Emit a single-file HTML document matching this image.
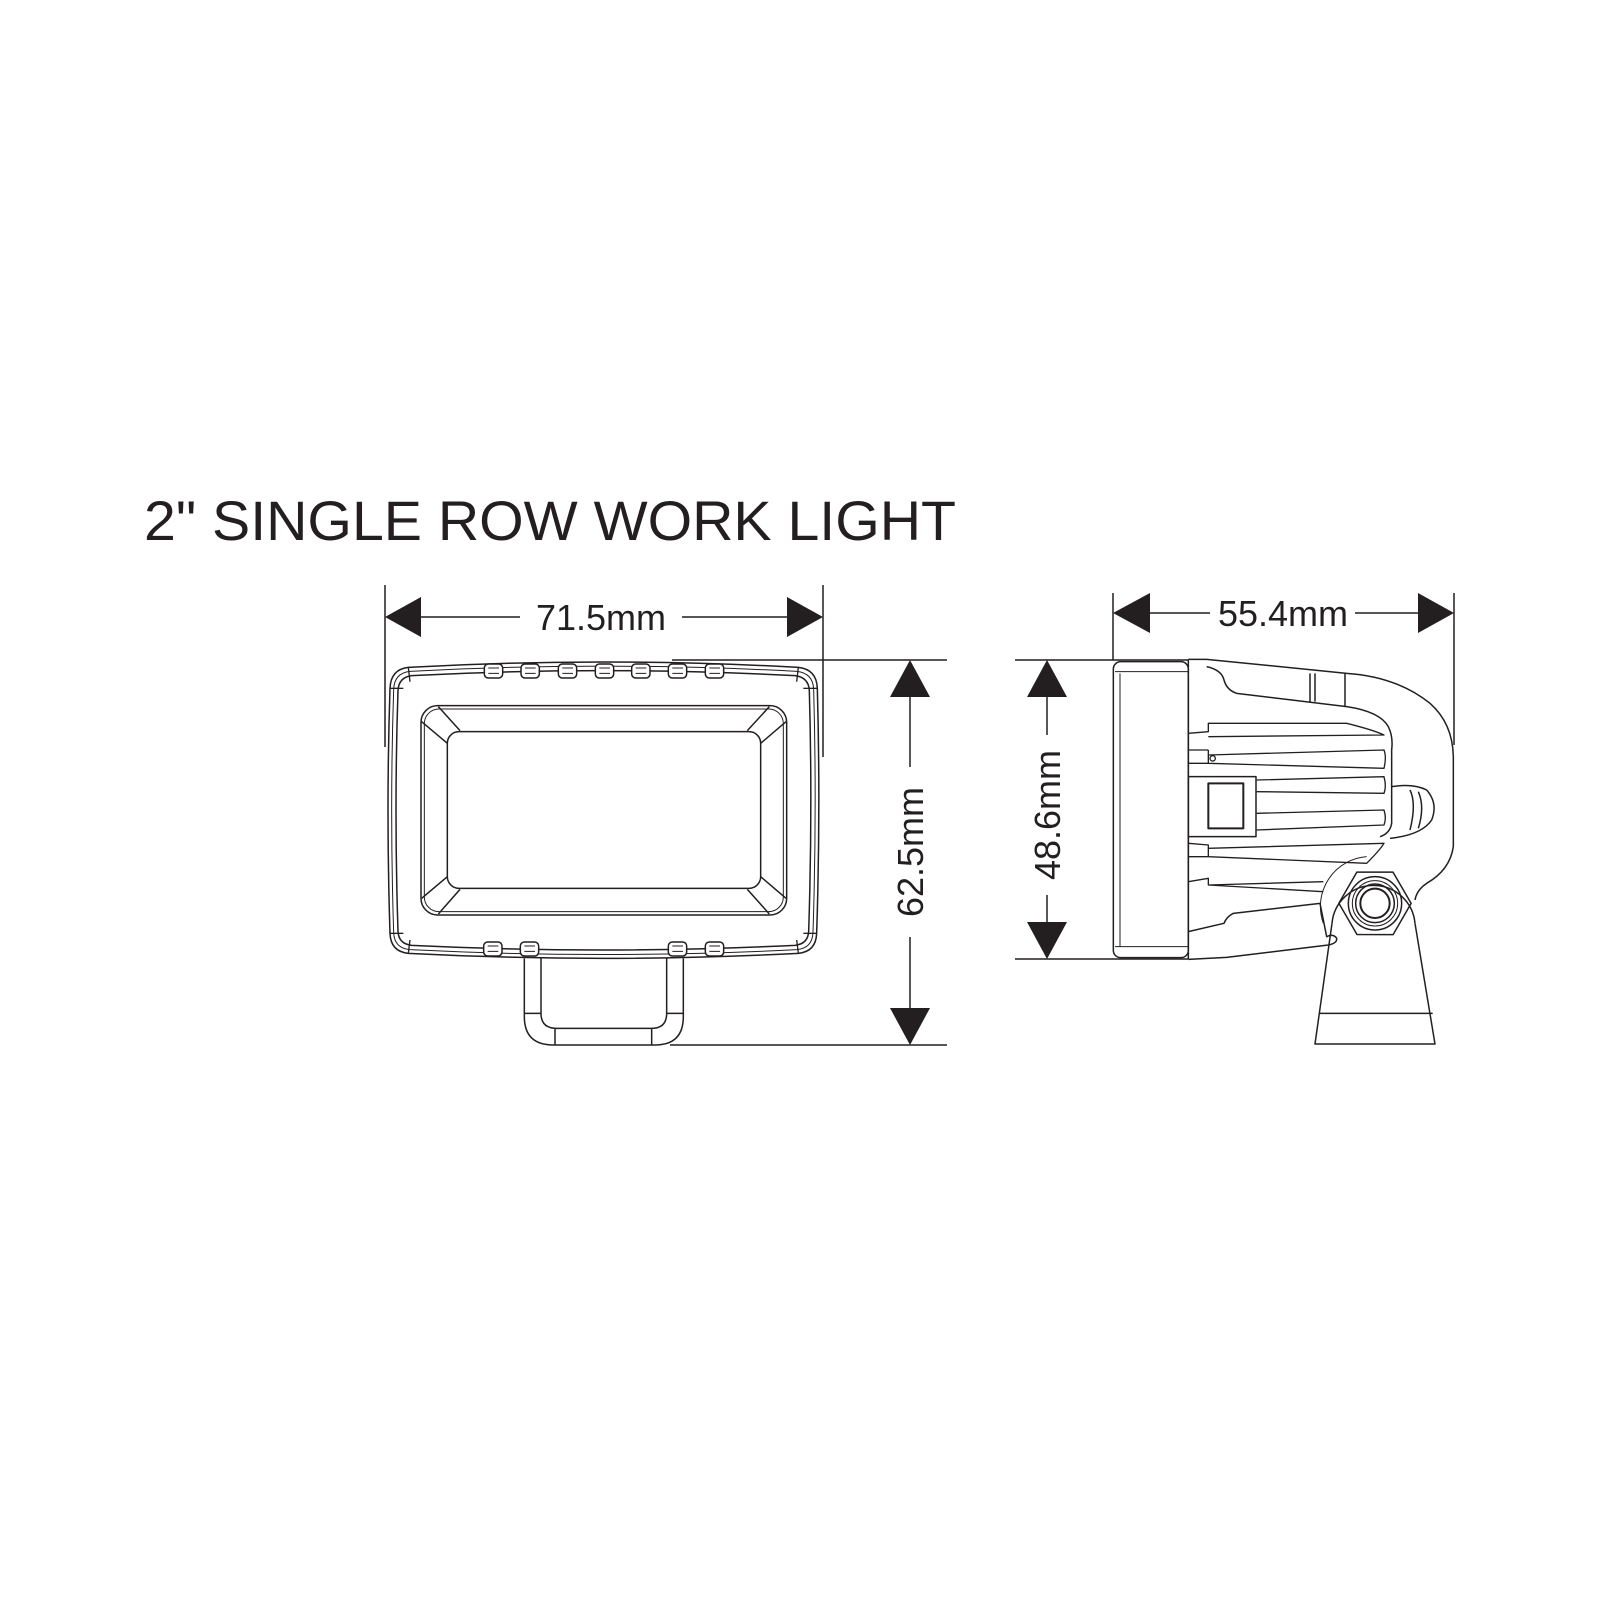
<!DOCTYPE html>
<html><head><meta charset="utf-8"><style>
html,body{margin:0;padding:0;background:#fff;}
svg{display:block;}
</style></head><body>
<svg width="1600" height="1600" viewBox="0 0 1600 1600" xmlns="http://www.w3.org/2000/svg">
<rect width="1600" height="1600" fill="#fff"/>
<text x="144" y="540" font-family="Liberation Sans, sans-serif" font-size="56" fill="#231f20" textLength="812" lengthAdjust="spacingAndGlyphs">2" SINGLE ROW WORK LIGHT</text>

<g stroke="#231f20" fill="none" stroke-width="1.5">
<line x1="385" y1="585" x2="385" y2="747"/>
<line x1="823" y1="585" x2="823" y2="757"/>
<line x1="420" y1="617" x2="520" y2="617"/>
<line x1="682" y1="617" x2="790" y2="617"/>
<line x1="672" y1="660" x2="947" y2="660"/>
<line x1="670" y1="1045" x2="947" y2="1045"/>
<line x1="910" y1="697" x2="910" y2="767"/>
<line x1="910" y1="937" x2="910" y2="1008"/>
<line x1="1015" y1="660" x2="1188" y2="660"/>
<line x1="1015" y1="959" x2="1188" y2="959"/>
<line x1="1047" y1="697" x2="1047" y2="735"/>
<line x1="1047" y1="895" x2="1047" y2="922"/>
<line x1="1113" y1="593" x2="1113" y2="660"/>
<line x1="1454" y1="593" x2="1454" y2="745"/>
<line x1="1150" y1="613" x2="1210" y2="613"/>
<line x1="1355" y1="613" x2="1418" y2="613"/>
</g>
<g fill="#231f20">
<polygon points="385,617 421,597 421,637"/>
<polygon points="823,617 787,597 787,637"/>
<polygon points="910,660 890,697 930,697"/>
<polygon points="910,1045 890,1008 930,1008"/>
<polygon points="1047,660 1027,697 1067,697"/>
<polygon points="1047,959 1027,922 1067,922"/>
<polygon points="1113,613 1150,593 1150,633"/>
<polygon points="1454,613 1418,593 1418,633"/>
</g>
<g font-family="Liberation Sans, sans-serif" font-size="36" fill="#231f20">
<text x="601" y="630" text-anchor="middle">71.5mm</text>
<text x="1283" y="626" text-anchor="middle">55.4mm</text>
<text transform="translate(923,852) rotate(-90)" text-anchor="middle">62.5mm</text>
<text transform="translate(1060,815) rotate(-90)" text-anchor="middle">48.6mm</text>
</g>

<g transform="translate(370,640) scale(0.33333)" stroke="#231f20" fill="none" stroke-width="4.5" stroke-linejoin="round">
<path d="M115,82 Q700,50 1285,82 Q1340,88 1342,145 Q1352,510 1340,880 Q1338,935 1285,940 Q700,970 115,940 Q62,935 60,880 Q48,510 60,145 Q62,88 115,82 Z"/>
<path d="M120,94 Q700,63 1280,94 Q1329,99 1331,148 Q1341,510 1329,878 Q1327,925 1280,929 Q700,958 120,929 Q73,925 71,878 Q59,510 71,148 Q73,99 120,94 Z" stroke-width="3"/>
<path d="M125,107 Q700,77 1275,107 Q1316,112 1318,152 Q1328,510 1316,874 Q1314,912 1275,916 Q700,944 125,916 Q86,912 84,874 Q72,510 84,152 Q86,112 125,107 Z"/>
<g stroke-width="4">
<line x1="60" y1="145" x2="100" y2="145"/><line x1="115" y1="82" x2="120" y2="125"/>
<line x1="1342" y1="145" x2="1300" y2="145"/><line x1="1285" y1="82" x2="1280" y2="125"/>
<line x1="60" y1="880" x2="100" y2="880"/><line x1="115" y1="940" x2="120" y2="900"/>
<line x1="1340" y1="880" x2="1300" y2="880"/><line x1="1285" y1="940" x2="1280" y2="900"/>
</g>
<g fill="#fff">
<rect x="343" y="72" width="55" height="42" rx="12"/><rect x="453" y="72" width="55" height="42" rx="12"/>
<rect x="565" y="72" width="55" height="42" rx="12"/><rect x="676" y="72" width="55" height="42" rx="12"/>
<rect x="785" y="72" width="55" height="42" rx="12"/><rect x="895" y="72" width="55" height="42" rx="12"/>
<rect x="1006" y="72" width="55" height="42" rx="12"/>
<rect x="341" y="906" width="55" height="42" rx="12"/><rect x="451" y="906" width="55" height="42" rx="12"/>
<rect x="895" y="906" width="55" height="42" rx="12"/><rect x="1006" y="906" width="55" height="42" rx="12"/>
</g>
<g stroke-width="3">
<path d="M355,84 h32 M355,100 h32 M465,84 h32 M465,100 h32 M577,84 h32 M577,100 h32 M688,84 h32 M688,100 h32 M797,84 h32 M797,100 h32 M907,84 h32 M907,100 h32 M1018,84 h32 M1018,100 h32"/>
<path d="M353,918 h32 M353,934 h32 M463,918 h32 M463,934 h32 M907,918 h32 M907,934 h32 M1018,918 h32 M1018,934 h32"/>
</g>
<rect x="153" y="197" width="1097" height="628" rx="50"/>
<rect x="163" y="207" width="1077" height="608" rx="44" stroke-width="3"/>
<rect x="232" y="275" width="940" height="470" rx="35"/>
<path d="M205,200 L270,272 M155,245 L232,310 M1198,200 L1132,272 M1248,245 L1172,310 M205,822 L270,748 M155,775 L232,710 M1198,822 L1132,748 M1248,775 L1172,710"/>
<path d="M463,955 V1130 Q463,1215 550,1215 H855 Q940,1215 940,1130 V955"/>
<path d="M513,955 V1120 Q513,1165 560,1165 H845 Q890,1165 890,1120 V955"/>
<path d="M463,1120 H513 M890,1120 H940 M555,1165 V1215 M845,1165 V1215"/>
</g>

<g transform="translate(1080,570) scale(0.33333)" stroke="#231f20" fill="none" stroke-width="4.5" stroke-linejoin="round">
<rect x="100" y="275" width="225" height="888" rx="22"/>
<line x1="120" y1="310" x2="120" y2="1130" stroke-width="3"/>
<line x1="105" y1="305" x2="325" y2="305" stroke-width="3"/>
<line x1="105" y1="1130" x2="325" y2="1130" stroke-width="3"/>
<line x1="325" y1="268" x2="325" y2="1168"/>
<path d="M325,268 L380,268 L800,310 Q950,320 1050,400 Q1118,460 1120,560 V830 Q1110,900 1040,940 Q1010,960 1005,990"/>
<path d="M380,290 Q425,300 432,330 Q440,360 470,370 L800,410 Q900,425 925,470 Q940,500 935,540 V760 Q930,790 900,800"/>
<path d="M690,310 V395 M705,310 V395 M795,310 V410"/>
<path d="M325,1168 L440,1162 L745,1125 Q772,1120 770,1105 Q760,1090 740,1100 L720,1000 L460,1030 Q440,1040 432,1060 L325,1085"/>
<g stroke-width="4">
<path d="M325,490 L385,485 V460 L800,460 Q880,480 912,495 L385,500"/>
<path d="M325,540 L385,540 M385,540 V580 L912,595 Q920,560 912,540 L385,555"/>
<path d="M530,630 L912,620 Q920,650 912,670 L530,665"/>
<path d="M530,730 L912,720 Q920,745 912,765 L530,780"/>
<path d="M325,820 L385,825 V860 L860,880 Q900,840 912,820 L385,835"/>
<path d="M325,935 L385,925 V945 L730,965 M385,945 L730,935"/>
<line x1="325" y1="860" x2="385" y2="860"/>
<line x1="325" y1="580" x2="385" y2="580"/>
<circle cx="398" cy="565" r="8"/>
</g>
<rect x="325" y="620" width="203" height="180"/>
<rect x="385" y="640" width="105" height="135" stroke-width="6"/>
<path d="M935,650 Q1000,640 1040,660 Q1075,700 1055,750 Q1025,795 930,805"/>
<path d="M990,660 Q1010,700 990,780 M1015,665 Q1035,710 1015,775"/>
<path d="M756,1060 A125,125 0 0 1 1005,1060"/>
<path d="M730,1060 A150,150 0 0 1 860,860" stroke-width="3"/>
<path d="M756,1060 L705,1422 H1065 L1005,1060"/>
<line x1="718" y1="1330" x2="1058" y2="1330"/>
<polygon points="885,892 979,946 979,1054 885,1108 791,1054 791,946" transform="rotate(30 885 1000)"/>
<circle cx="885" cy="1000" r="80"/>
<circle cx="885" cy="1000" r="68" stroke-width="3"/>
<circle cx="885" cy="1000" r="58"/>
<circle cx="885" cy="1000" r="44" stroke-width="6"/>
</g>
</svg>
</body></html>
